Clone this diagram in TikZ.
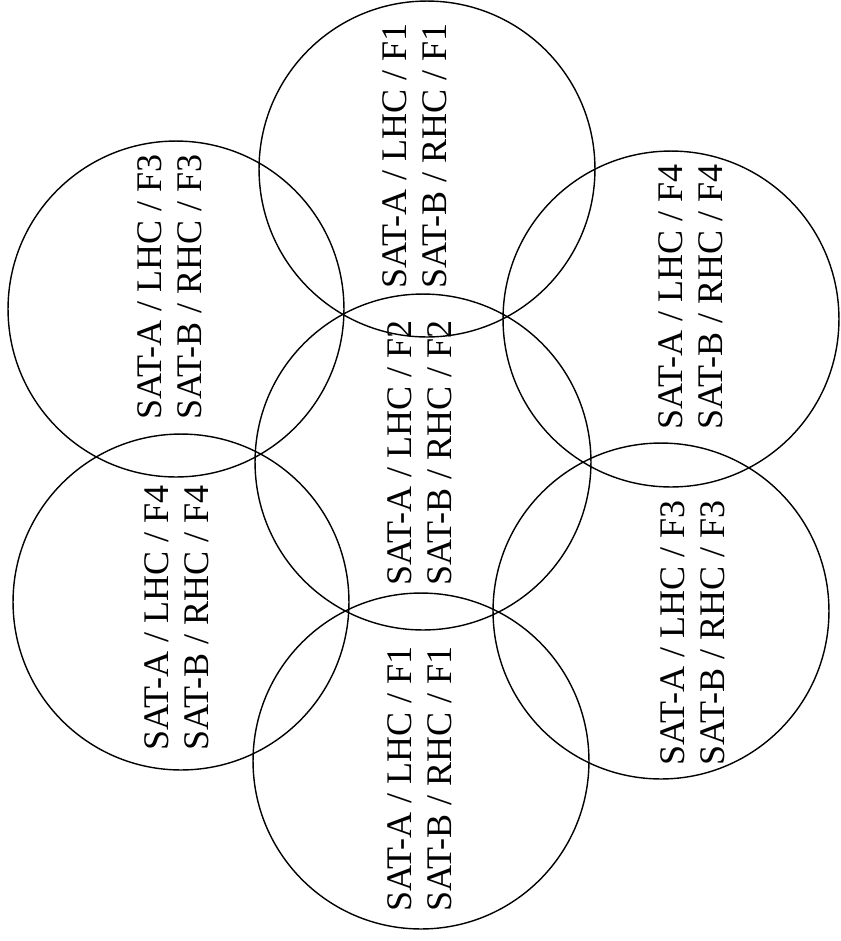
\documentclass[tikz,border=0pt]{standalone}
\usepackage{fontspec}
\setmainfont{Liberation Serif}
\usepackage{tikz}
\usetikzlibrary{positioning}
\tikzset{
	cell/.style={
		draw, circle, minimum size=6.72cm,
		inner sep=0pt, line width=0.8pt
	},
	beam/.style={
		rotate=90, align=center, inner sep=0pt,
		font=\fontsize{20.5}{22.7}\selectfont
	}
}

\begin{document}
\begin{tikzpicture}[x=0.02cm,y=-0.02cm]
	\useasboundingbox (0,0) rectangle (841,941);
	% seven cells
	\node[cell] (top)   at (427,169) {};
	\node[cell] (mid)   at (423,462) {};
	\node[cell] (bot)   at (421,761) {};
	\node[cell] (uleft) at (176,309) {};
	\node[cell] (uright) at (671,319) {};
	\node[cell] (lleft) at (181,602) {};
	\node[cell] (lright) at (661,611) {};
	% beam labels
	\node[beam] (ttop)   at (415,156) {SAT-A / LHC / F1\\SAT-B / RHC / F1};
	\node[beam] (tmid)   at (420,453) {SAT-A / LHC / F2\\SAT-B / RHC / F2};
	\node[beam] (tbot)   at (420,779) {SAT-A / LHC / F1\\SAT-B / RHC / F1};
	\node[beam] (tuleft) at (170,287) {SAT-A / LHC / F3\\SAT-B / RHC / F3};
	\node[beam] (turight) at (691,297) {SAT-A / LHC / F4\\SAT-B / RHC / F4};
	\node[beam] (tlleft) at (177,618) {SAT-A / LHC / F4\\SAT-B / RHC / F4};
	\node[beam] (tlright) at (693,633) {SAT-A / LHC / F3\\SAT-B / RHC / F3};
\end{tikzpicture}
\end{document}
